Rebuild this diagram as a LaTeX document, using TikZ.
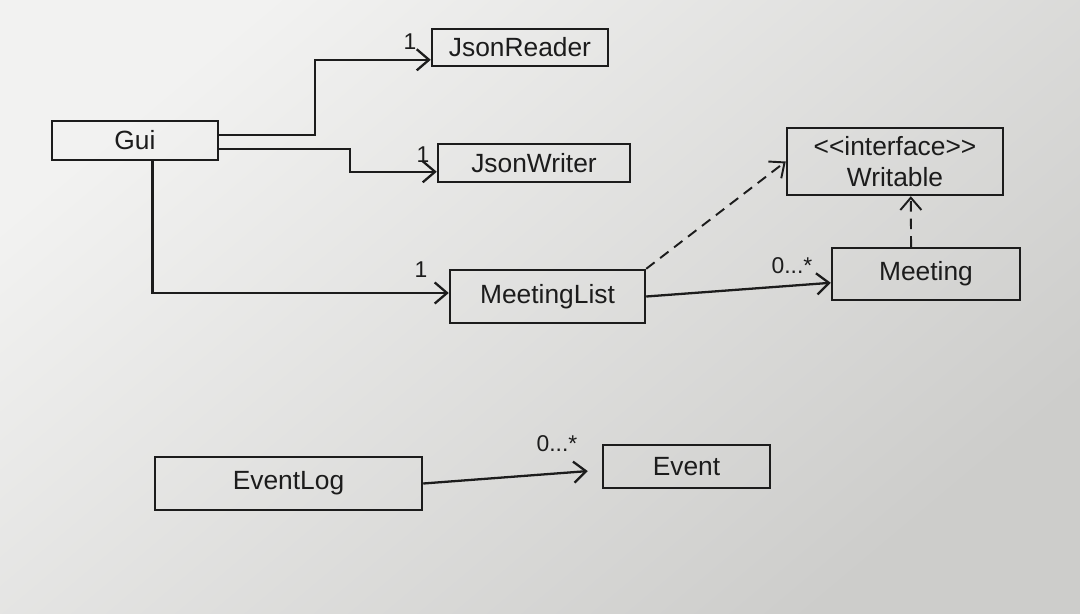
\documentclass[tikz,border=0pt]{standalone}
\usepackage{fontspec}
\setmainfont{Liberation Sans}
\usetikzlibrary{arrows.meta,fit,shadings}
\definecolor{ink}{HTML}{1C1C1C}
\definecolor{paperA}{HTML}{F2F2F1}
\definecolor{paperB}{HTML}{CDCDCB}
\begin{document}
\begin{tikzpicture}[x=0.02cm,y=-0.02cm,
  box/.style={draw=ink,line width=1.4pt,rectangle,inner sep=0pt},
  lbl/.style={text=ink,font=\fontsize{15}{18}\selectfont,align=center},
  assoc/.style={draw=ink,line width=1.3pt,-{Straight Barb[length=7pt,width=12pt,line width=1.3pt]}},
  real/.style={draw=ink,line width=1.1pt,dashed,dash pattern=on 6pt off 4pt,
    -{Straight Barb[length=7pt,width=12pt,line width=1.1pt,sep=0pt]}},
  mult/.style={text=ink,font=\fontsize{13}{15}\selectfont,inner sep=1pt}]
\shade[shading=axis,top color=paperA,bottom color=paperB,shading angle=40]
  (0,0) rectangle (1080,613);
\useasboundingbox (0,0) rectangle (1080,613);

% classes
\node[box,fit={(52,121) (218,160)},label={[lbl]center:Gui}] (gui) {};
\node[box,fit={(432,29) (608,66)},label={[lbl]center:JsonReader}] (reader) {};
\node[box,fit={(438,144) (630,182)},label={[lbl]center:JsonWriter}] (writer) {};
\node[box,fit={(787,128) (1003,195)},
  label={[lbl]center:<{}<interface>{}>\\Writable}] (writable) {};
\node[box,fit={(450,270) (645,323)},label={[lbl]center:MeetingList}] (mlist) {};
\node[box,fit={(832,248) (1020,300)},label={[lbl]center:Meeting}] (meeting) {};
\node[box,fit={(155,457) (422,510)},label={[lbl]center:EventLog}] (elog) {};
\node[box,fit={(603,445) (770,488)},label={[lbl]center:Event}] (event) {};

% bend points
\coordinate (b1) at (315,100);
\coordinate (b2) at (350,160);

% associations
\draw[assoc] ([yshift=3pt]gui.east) -| (b1) |- ([yshift=-7pt]reader.west);
\draw[assoc] ([yshift=-5pt]gui.east) -| (b2) |- ([yshift=-5pt]writer.west);
\draw[assoc] ([xshift=10pt]gui.south) |- ([yshift=2pt]mlist.west);
\draw[assoc] (mlist.east) -- ([yshift=-5pt]meeting.west);
\draw[assoc,shorten >=8pt] (elog.east) -- ([yshift=-2pt]event.west);

% realizations
\draw[real] (mlist.north east) -- (writable.west);
\draw[real] ([xshift=-8.5pt]meeting.north) -- ([xshift=9pt]writable.south);

% multiplicities
\node[mult] (m1) at (410,42) {1};
\node[mult] (m2) at (423,155) {1};
\node[mult] (m3) at (421,270) {1};
\node[mult] (m4) at (792,266) {0...*};
\node[mult] (m5) at (557,444) {0...*};
\end{tikzpicture}
\end{document}
